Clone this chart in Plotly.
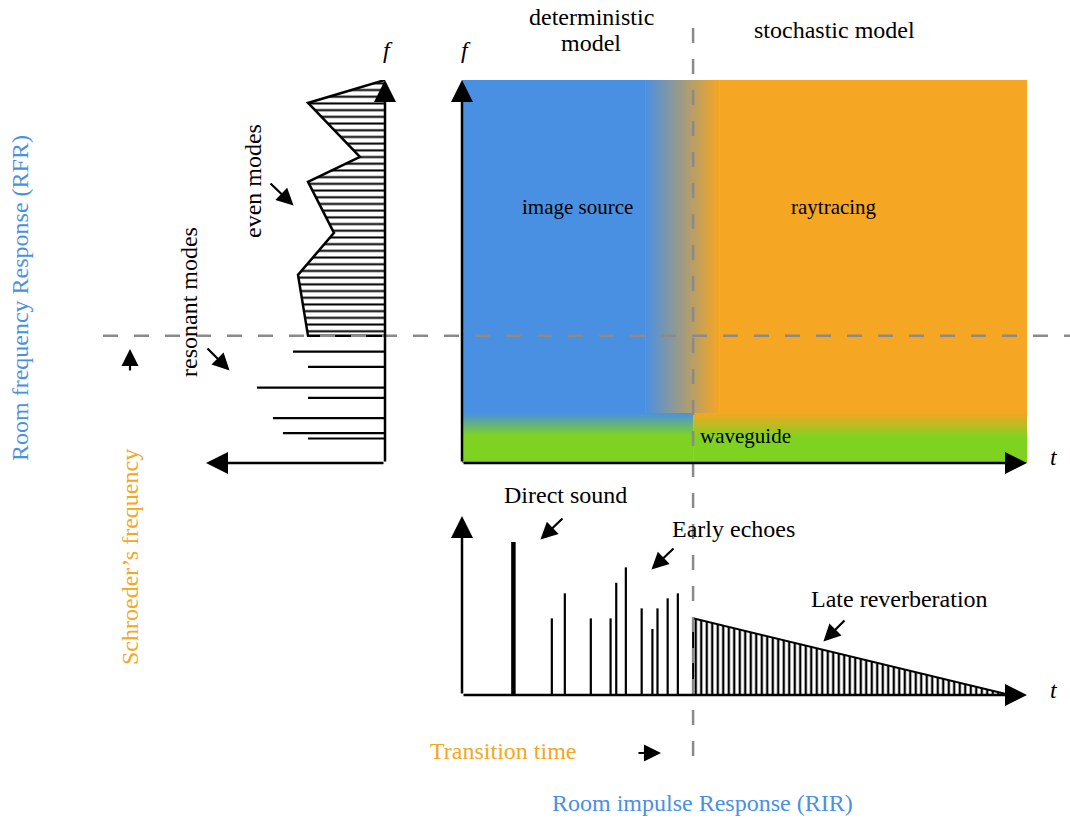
import plotly.graph_objects as go

# ---------------- data ----------------
# Room frequency response (left panel): frequency 0-100 (up), amplitude 0-100 (leftwards)
mode_freq = [29.1, 25.1, 19.7, 17.0, 11.7, 7.8, 6.4]
mode_amp = [51.4, 43.0, 71.5, 43.0, 62.6, 57.0, 43.0]
dense_freq = [100.0, 94.0, 79.9, 73.4, 60.1, 49.1, 33.2]
dense_amp = [0.0, 43.0, 14.0, 43.0, 28.5, 48.6, 43.0]
schroeder_freq = 33.2

# time-frequency model regions (time 0-100, frequency 0-100)
deterministic_end = 32.4
stochastic_start = 45.5
transition_time = 40.9
waveguide_fmax = 13.05
top_freq = 100.0
end_time = 100.0

# Room impulse response (bottom panel): time 0-100, amplitude 0-100
direct_t = [9.1]
direct_a = [85.5]
echo_t = [15.9, 18.2, 22.8, 26.3, 27.3, 29.0, 31.8, 33.7, 34.6, 36.4, 38.2]
echo_a = [42.8, 56.8, 42.8, 42.8, 62.7, 71.3, 48.4, 36.9, 48.4, 54.0, 56.8]
late_t = [40.9, 97.0]
late_a = [42.8, 0.0]

# ---------------- style ----------------
BLUE = "#4a90e2"
ORANGE = "#f5a623"
GREEN = "#7ed321"
DASH = "#8a8a8a"
FONT = "Liberation Serif"
W, H = 1070, 818


def px(x):
    return x / W


def py(y):
    return 1 - y / H


fig = go.Figure()

# ---- main time-frequency panel ----
def rect(x0, x1, y0, y1):
    return [x0, x1, x1, x0], [y0, y0, y1, y1]

xs, ys = rect(0, deterministic_end, waveguide_fmax, top_freq)
fig.add_trace(go.Scatter(x=xs, y=ys, fill="toself", fillcolor=BLUE, mode="none",
                         xaxis="x", yaxis="y", hoverinfo="skip"))
xs, ys = rect(stochastic_start, end_time, waveguide_fmax, top_freq)
fig.add_trace(go.Scatter(x=xs, y=ys, fill="toself", fillcolor=ORANGE, mode="none",
                         xaxis="x", yaxis="y", hoverinfo="skip"))
xs, ys = rect(deterministic_end, stochastic_start, waveguide_fmax, top_freq + 0.4)
fig.add_trace(go.Scatter(x=xs, y=ys, fill="toself", mode="none",
                         fillgradient=dict(type="horizontal",
                                           colorscale=[[0, BLUE], [1, ORANGE]]),
                         xaxis="x", yaxis="y", hoverinfo="skip"))
xs, ys = rect(0, transition_time, 0, waveguide_fmax)
fig.add_trace(go.Scatter(x=xs, y=ys, fill="toself", mode="none",
                         fillgradient=dict(type="vertical",
                                           colorscale=[[0, GREEN], [0.55, GREEN], [1, BLUE]]),
                         xaxis="x", yaxis="y", hoverinfo="skip"))
xs, ys = rect(transition_time, end_time, 0, waveguide_fmax)
fig.add_trace(go.Scatter(x=xs, y=ys, fill="toself", mode="none",
                         fillgradient=dict(type="vertical",
                                           colorscale=[[0, GREEN], [0.5, GREEN], [1, ORANGE]]),
                         xaxis="x", yaxis="y", hoverinfo="skip"))

# ---- room frequency response panel ----
fig.add_trace(go.Scatter(
    x=dense_amp + [0.0], y=dense_freq + [schroeder_freq],
    fill="toself", mode="lines",
    line=dict(color="black", width=2.5),
    fillcolor="white",
    fillpattern=dict(shape="-", size=6.7, solidity=0.3, fgcolor="black",
                     fgopacity=1, bgcolor="white"),
    xaxis="x2", yaxis="y2", hoverinfo="skip"))
mx, my = [], []
for f, a in zip(mode_freq, mode_amp):
    mx += [0, a, None]
    my += [f, f, None]
fig.add_trace(go.Scatter(x=mx, y=my, mode="lines", line=dict(color="black", width=2.2),
                         xaxis="x2", yaxis="y2", hoverinfo="skip"))

# ---- room impulse response panel ----
fig.add_trace(go.Scatter(
    x=[late_t[0], late_t[0], late_t[1]], y=[0.0, late_a[0], late_a[1]],
    fill="toself", mode="lines", line=dict(color="black", width=2),
    fillcolor="white",
    fillpattern=dict(shape="|", size=5.5, solidity=0.42, fgcolor="black",
                     fgopacity=1, bgcolor="white"),
    xaxis="x3", yaxis="y3", hoverinfo="skip"))
ex, ey = [], []
for t, a in zip(echo_t, echo_a):
    ex += [t, t, None]
    ey += [0, a, None]
fig.add_trace(go.Scatter(x=ex, y=ey, mode="lines", line=dict(color="black", width=2.2),
                         xaxis="x3", yaxis="y3", hoverinfo="skip"))
dx, dy = [], []
for t, a in zip(direct_t, direct_a):
    dx += [t, t, None]
    dy += [0, a, None]
fig.add_trace(go.Scatter(x=dx, y=dy, mode="lines", line=dict(color="black", width=4.5),
                         xaxis="x3", yaxis="y3", hoverinfo="skip"))

# ---------------- axes ----------------
main_x = [px(462), px(1027)]
main_y = [py(463), py(80)]
rfr_x = [px(206), px(385)]
rir_y = [py(695), py(516)]
hidden = dict(visible=False, fixedrange=True)
fig.update_layout(
    xaxis=dict(domain=main_x, range=[0, 100], anchor="y", **hidden),
    yaxis=dict(domain=main_y, range=[0, 100], anchor="x", **hidden),
    xaxis2=dict(domain=rfr_x, range=[100, 0], anchor="y2", **hidden),
    yaxis2=dict(domain=main_y, range=[0, 100], anchor="x2", **hidden),
    xaxis3=dict(domain=main_x, range=[0, 100], anchor="y3", **hidden),
    yaxis3=dict(domain=rir_y, range=[0, 100], anchor="x3", **hidden),
)

ann = []
# axis arrows
for xr, yr, tip in [("x", "y", (0, 100)), ("x", "y", (100, 0)),
                    ("x2", "y2", (0, 100)), ("x2", "y2", (100, 0)),
                    ("x3", "y3", (0, 100)), ("x3", "y3", (100, 0))]:
    ann.append(dict(xref=xr, yref=yr, axref=xr, ayref=yr, x=tip[0], y=tip[1], ax=0, ay=0,
                    text="", showarrow=True, arrowhead=2, arrowsize=1.76, arrowwidth=2.5,
                    arrowcolor="black"))

# pointer arrows (tip pixel, tail offset)
for tx, ty, ox, oy in [(295, 207, -26, -25), (231, 372, -25, -25), (130, 347, 0, 25),
                       (663, 753, -26, 0), (539, 541, 25, -24), (650, 571, 25, -24),
                       (822, 643, 24, -24)]:
    ann.append(dict(xref="paper", yref="paper", x=px(tx), y=py(ty), ax=ox, ay=oy,
                    text="", showarrow=True, arrowhead=2, arrowsize=1.55, arrowwidth=2.2,
                    arrowcolor="black", standoff=2))

labels = [
    ("deterministic", 591, 17, 24, "black", 0),
    ("model", 591, 43, 24, "black", 0),
    ("stochastic model", 834, 30, 24, "black", 0),
    ("<i>f</i>", 388, 50, 24, "black", 0),
    ("<i>f</i>", 466, 50, 24, "black", 0),
    ("image source", 577, 207, 21, "black", 0),
    ("raytracing", 834, 207, 21, "black", 0),
    ("waveguide", 745, 436, 21, "black", 0),
    ("<i>t</i>", 1054, 457, 24, "black", 0),
    ("<i>t</i>", 1054, 690, 24, "black", 0),
    ("Direct sound", 565, 495, 24, "black", 0),
    ("Early echoes", 733, 529, 24, "black", 0),
    ("Late reverberation", 899, 599, 24, "black", 0),
    ("Transition time", 503, 751, 24, ORANGE, 0),
    ("Room impulse Response (RIR)", 702, 803, 24, BLUE, 0),
    ("Room frequency Response (RFR)", 20, 298, 24, BLUE, -90),
    ("Schroeder’s frequency", 130, 557, 24, ORANGE, -90),
    ("resonant modes", 189, 302, 24, "black", -90),
    ("even modes", 253, 181, 24, "black", -90),
]
for text, x, y, size, color, ang in labels:
    ann.append(dict(xref="paper", yref="paper", x=px(x), y=py(y), text=text,
                    showarrow=False, xanchor="center", yanchor="middle", textangle=ang,
                    font=dict(family=FONT, size=size, color=color)))

shapes = [
    dict(type="line", xref="x", yref="paper", x0=transition_time, x1=transition_time,
         y0=py(28), y1=py(772), line=dict(color=DASH, width=2.5, dash="15px,16px"),
         layer="above"),
    dict(type="line", xref="paper", yref="y", x0=px(103), x1=1.0,
         y0=schroeder_freq, y1=schroeder_freq,
         line=dict(color=DASH, width=2.5, dash="15px,16px"), layer="above"),
]

fig.update_layout(
    width=W, height=H, margin=dict(l=0, r=0, t=0, b=0),
    paper_bgcolor="white", plot_bgcolor="white", showlegend=False,
    annotations=ann, shapes=shapes,
)

fig.write_html("out.html", post_script="document.body.style.margin='0px';",
               config={"displayModeBar": False})
